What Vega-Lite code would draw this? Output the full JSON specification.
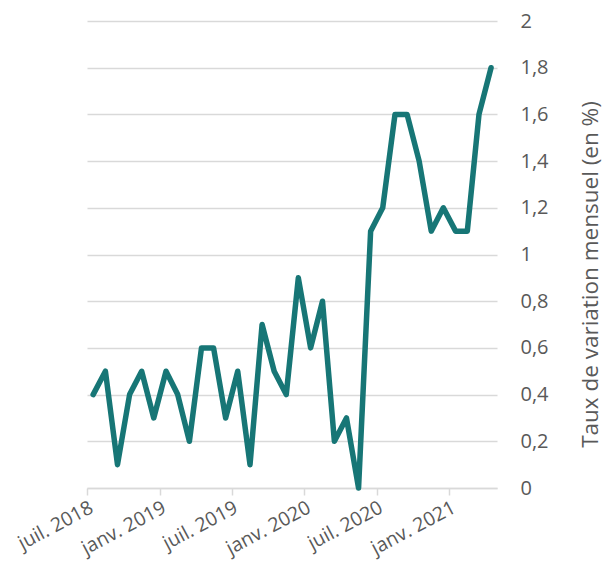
{
  "$schema": "https://vega.github.io/schema/vega-lite/v6.json",
  "width": 410,
  "height": 467,
  "autosize": "none",
  "padding": {"left": 87, "top": 21, "right": 108, "bottom": 83},
  "background": "white",
  "config": {"view": {"stroke": null}, "font": "Open Sans"},
  "data": {
    "values": [
      {"mois": "2018-07", "taux": 0.4},
      {"mois": "2018-08", "taux": 0.5},
      {"mois": "2018-09", "taux": 0.1},
      {"mois": "2018-10", "taux": 0.4},
      {"mois": "2018-11", "taux": 0.5},
      {"mois": "2018-12", "taux": 0.3},
      {"mois": "2019-01", "taux": 0.5},
      {"mois": "2019-02", "taux": 0.4},
      {"mois": "2019-03", "taux": 0.2},
      {"mois": "2019-04", "taux": 0.6},
      {"mois": "2019-05", "taux": 0.6},
      {"mois": "2019-06", "taux": 0.3},
      {"mois": "2019-07", "taux": 0.5},
      {"mois": "2019-08", "taux": 0.1},
      {"mois": "2019-09", "taux": 0.7},
      {"mois": "2019-10", "taux": 0.5},
      {"mois": "2019-11", "taux": 0.4},
      {"mois": "2019-12", "taux": 0.9},
      {"mois": "2020-01", "taux": 0.6},
      {"mois": "2020-02", "taux": 0.8},
      {"mois": "2020-03", "taux": 0.2},
      {"mois": "2020-04", "taux": 0.3},
      {"mois": "2020-05", "taux": 0.0},
      {"mois": "2020-06", "taux": 1.1},
      {"mois": "2020-07", "taux": 1.2},
      {"mois": "2020-08", "taux": 1.6},
      {"mois": "2020-09", "taux": 1.6},
      {"mois": "2020-10", "taux": 1.4},
      {"mois": "2020-11", "taux": 1.1},
      {"mois": "2020-12", "taux": 1.2},
      {"mois": "2021-01", "taux": 1.1},
      {"mois": "2021-02", "taux": 1.1},
      {"mois": "2021-03", "taux": 1.6},
      {"mois": "2021-04", "taux": 1.8}
    ]
  },
  "mark": {"type": "line", "color": "#177676", "strokeWidth": 5.5, "strokeJoin": "round", "strokeCap": "round"},
  "encoding": {
    "x": {
      "field": "mois",
      "type": "temporal",
      "timeUnit": "utcyearmonth",
      "bandPosition": 0.5,
      "scale": {
        "domain": [
          {"year": 2018, "month": 7, "date": 1, "utc": true},
          {"year": 2021, "month": 5, "date": 1, "utc": true}
        ]
      },
      "axis": {
        "title": null,
        "grid": false,
        "values": [
          {"year": 2018, "month": 7, "date": 1, "utc": true},
          {"year": 2019, "month": 1, "date": 1, "utc": true},
          {"year": 2019, "month": 7, "date": 1, "utc": true},
          {"year": 2020, "month": 1, "date": 1, "utc": true},
          {"year": 2020, "month": 7, "date": 1, "utc": true},
          {"year": 2021, "month": 1, "date": 1, "utc": true}
        ],
        "labelExpr": "(utcmonth(datum.value) == 6 ? 'juil. ' : 'janv. ') + utcyear(datum.value)",
        "labelAngle": -28,
        "labelAlign": "right",
        "labelBaseline": "top",
        "labelFontSize": 19.5,
        "labelColor": "#595959",
        "labelPadding": 3,
        "labelOverlap": false,
        "labelFlush": false,
        "domainColor": "#d9d9d9",
        "domainWidth": 1.5,
        "tickColor": "#d9d9d9",
        "tickWidth": 1.5,
        "tickSize": 7
      }
    },
    "y": {
      "field": "taux",
      "type": "quantitative",
      "scale": {"domain": [0, 2], "nice": false},
      "axis": {
        "orient": "right",
        "title": "Taux de variation mensuel (en %)",
        "titleAngle": 270,
        "titleFontSize": 22.5,
        "titleFontWeight": "normal",
        "titleColor": "#595959",
        "titleX": 93,
        "titleY": 253,
        "titleAlign": "center",
        "titleBaseline": "middle",
        "values": [0, 0.2, 0.4, 0.6, 0.8, 1, 1.2, 1.4, 1.6, 1.8, 2],
        "labelExpr": "replace(format(datum.value, '.1~f'), '.', ',')",
        "labelFontSize": 20,
        "labelColor": "#595959",
        "labelPadding": 23,
        "labelAlign": "left",
        "ticks": false,
        "domain": false,
        "grid": true,
        "gridColor": "#d9d9d9",
        "gridWidth": 1.5
      }
    }
  }
}
